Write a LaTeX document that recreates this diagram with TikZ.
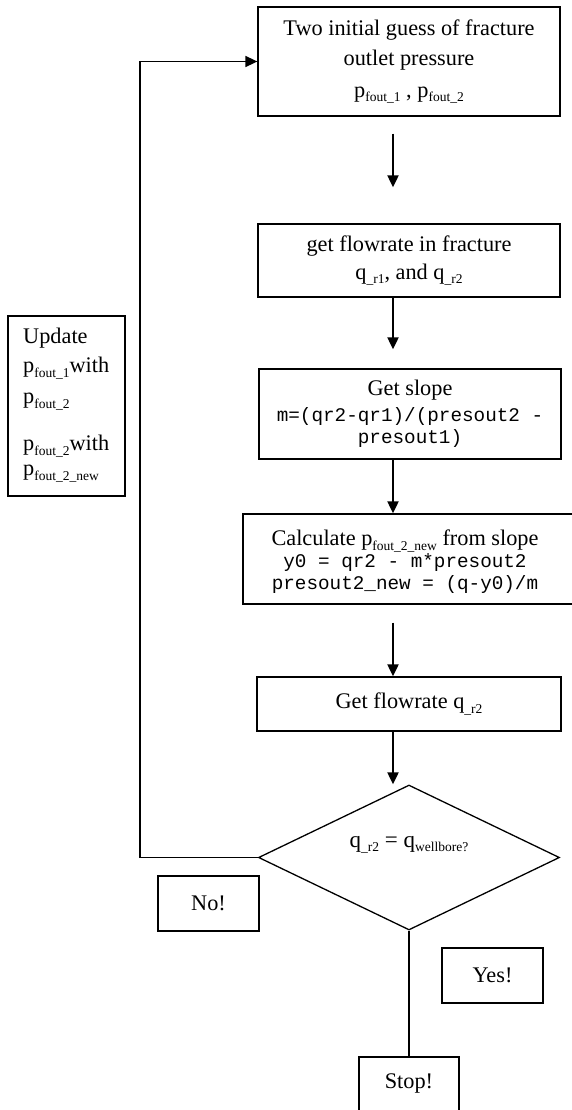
\documentclass[tikz,border=0pt]{standalone}
\usepackage{fontspec}
\setmainfont{Liberation Serif}
\newfontfamily\codefont{Liberation Mono}
\usetikzlibrary{shapes.geometric,arrows.meta}
\tikzset{
  box/.style={draw, line width=1.3pt, inner sep=0pt, align=center, font=\fontsize{22.3}{28}\selectfont},
  txt/.style={inner sep=0pt, align=center, font=\fontsize{22.3}{28}\selectfont},
  flow/.style={line width=2pt, -{Triangle[length=12pt,width=11pt]}},
  thinline/.style={line width=1.3pt},
}
\newcommand{\cf}[1]{{\codefont\fontsize{19.3}{22}\selectfont #1}}
\newcommand{\sbs}[1]{\raisebox{-4.5pt}{\fontsize{13.5}{14}\selectfont #1}}
\begin{document}
\begin{tikzpicture}[x=1pt,y=-1pt]
\useasboundingbox (0,0) rectangle (571,1110);
\node[box, minimum width=302pt, minimum height=109pt, font=\fontsize{22.3}{30}\selectfont] (b1) at (409,61.5)
  {Two initial guess of fracture\\outlet pressure\\[2pt]p\sbs{fout\_1} , p\sbs{fout\_2}};
\node[box, minimum width=302pt, minimum height=73pt] (b2) at (409,260.5)
  {get flowrate in fracture\\q\sbs{\_r1}, and q\sbs{\_r2}};
\node[box, minimum width=302pt, minimum height=90pt] (b3) at (410,414)
  {Get slope\\[-2pt]\cf{m=(qr2-qr1)/(presout2 -}\\[-6pt]\cf{presout1)}};
\node[box, minimum width=332pt, minimum height=90pt] (b4) at (409,559) {};
\node[txt] (b4t) at (405,562)
  {Calculate p\sbs{fout\_2\_new} from slope\\[-6pt]\cf{y0 = qr2 - m*presout2}\\[-6pt]\cf{presout2\_new = (q-y0)/m}};
\node[box, minimum width=304pt, minimum height=54pt] (b5) at (409,704) {Get flowrate q\sbs{\_r2}};
\node[draw, thinline, diamond, inner sep=0pt, minimum width=301pt, minimum height=145pt] (dia) at (409,857.5) {};
\node[txt, font=\fontsize{23}{26}\selectfont] (diat) at (409,845) {q\sbs{\_r2} = q\sbs{wellbore?}};
\node[box, minimum width=117pt, minimum height=180pt] (upd) at (66.5,406) {};
\node[txt, anchor=west, align=left, font=\fontsize{22.3}{29}\selectfont] (updt) at (23,405)
  {Update\\p\sbs{fout\_1}with\\[2pt]p\sbs{fout\_2}\\[18pt]p\sbs{fout\_2}with\\[-4pt]p\sbs{fout\_2\_new}};
\node[box, minimum width=101pt, minimum height=55pt] (no) at (208.5,903.5) {No!};
\node[box, minimum width=101pt, minimum height=55pt] (yes) at (492.5,975.5) {Yes!};
\node[box, minimum width=100pt, minimum height=55pt, text depth=6pt] (stop) at (409,1084.5) {Stop!};

\draw[flow, shorten <=17pt, shorten >=36pt] ([xshift=-16pt]b1.south) -- ([xshift=-16pt]b1.south |- b2.north);
\draw[flow, shorten >=19pt] ([xshift=-16pt]b2.south) -- ([xshift=-16pt]b2.south |- b3.north);
\draw[flow] ([xshift=-17pt]b3.south) -- ([xshift=-17pt]b3.south |- b4.north);
\draw[flow, shorten <=18pt] ([xshift=-16pt]b4.south) -- ([xshift=-16pt]b4.south |- b5.north);
\draw[flow] ([xshift=-16pt]b5.south) -- ([xshift=-16pt]b5.south |- dia.north);
\draw[line width=1.6pt, -{Triangle[length=12pt,width=11pt]}] (dia.west) -- ++(-118,0) |- (b1.west);
\draw[thinline] (dia.south) -- (stop.north);
\end{tikzpicture}
\end{document}
